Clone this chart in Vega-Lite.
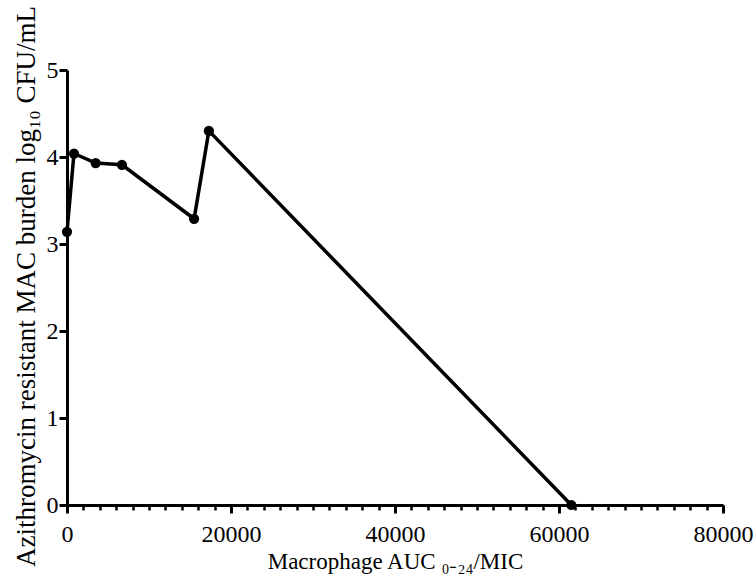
{
  "$schema": "https://vega.github.io/schema/vega-lite/v6.json",
  "width": 656,
  "height": 435,
  "autosize": "none",
  "padding": {"left": 67, "top": 70, "right": 32, "bottom": 71},
  "background": "white",
  "config": {
    "view": {"stroke": null},
    "font": "Liberation Serif",
    "axis": {"grid": false, "domainColor": "black", "tickColor": "black", "labelColor": "black", "titleColor": "black", "labelFont": "Liberation Serif", "titleFont": "Liberation Serif", "labelFontSize": 24, "titleFontSize": 22, "titleFontWeight": "normal", "domainWidth": 3, "tickWidth": 3}
  },
  "data": {
    "values": [
      {"auc": 0, "cfu": 3.14},
      {"auc": 850, "cfu": 4.04},
      {"auc": 3500, "cfu": 3.93},
      {"auc": 6700, "cfu": 3.91},
      {"auc": 15500, "cfu": 3.29},
      {"auc": 17300, "cfu": 4.3},
      {"auc": 61500, "cfu": 0}
    ]
  },
  "layer": [
    {
      "mark": {"type": "line", "color": "black", "strokeWidth": 3.5},
      "encoding": {
        "x": {"field": "auc", "type": "quantitative", "scale": {"domain": [0, 80000], "nice": false, "zero": false},
          "axis": {"values": [0, 2000, 4000, 6000, 8000, 10000, 12000, 14000, 16000, 18000, 20000, 22000, 24000, 26000, 28000, 30000, 32000, 34000, 36000, 38000, 40000, 42000, 44000, 46000, 48000, 50000, 52000, 54000, 56000, 58000, 60000, 62000, 64000, 66000, 68000, 70000, 72000, 74000, 76000, 78000, 80000], "labels": false, "domain": false, "title": null, "tickSize": 5, "tickWidth": 2.5, "orient": "bottom"}},
        "y": {"field": "cfu", "type": "quantitative", "scale": {"domain": [0, 5], "nice": false},
          "axis": {"values": [0, 1, 2, 3, 4, 5], "format": "d", "tickSize": 8, "labelPadding": 1, "labelFontSize": 24, "titleFontSize": 27, "labelFont": "Liberation Serif", "titleFont": "Liberation Serif", "title": "Azithromycin resistant MAC burden log₁₀ CFU/mL", "titlePadding": 6, "titleAnchor": "middle", "titleY": 216}}
      }
    },
    {
      "mark": {"type": "point", "filled": true, "color": "black", "size": 105, "opacity": 1},
      "encoding": {
        "x": {"field": "auc", "type": "quantitative", "scale": {"domain": [0, 80000], "nice": false, "zero": false},
          "axis": {"values": [0, 20000, 40000, 60000, 80000], "tickSize": 8, "labelPadding": 9, "format": "d", "labelFontSize": 24, "titleFontSize": 23, "labelFont": "Liberation Serif", "titleFont": "Liberation Serif", "title": "Macrophage AUC ₀₋₂₄/MIC", "titlePadding": 4, "orient": "bottom", "labelFlush": false}},
        "y": {"field": "cfu", "type": "quantitative"}
      }
    }
  ],
  "resolve": {"axis": {"x": "independent"}}
}
